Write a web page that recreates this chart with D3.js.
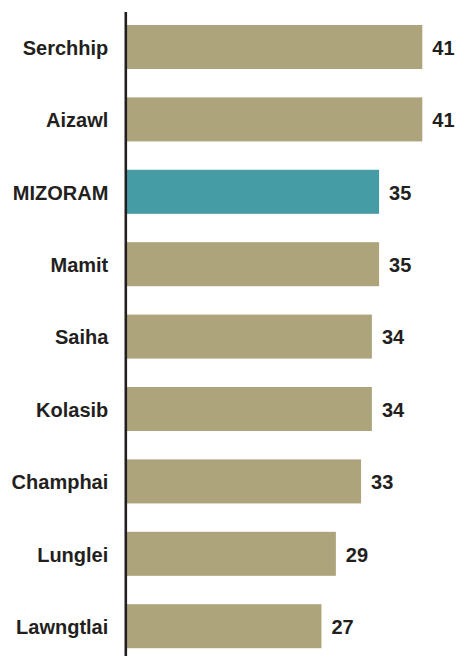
<!DOCTYPE html>
<html lang="en">
<head>
    <meta charset="UTF-8">
    <title>Mizoram districts</title>
    <style>
        body { margin: 0; background: #fff; }
        .lbl { font-family: "Liberation Sans", Arial, sans-serif; font-weight: bold; font-size: 20px; fill: #231f20; }
    </style>
</head>
<body>
    <script src="https://d3js.org/d3.v7.min.js"></script>
    <script>
        const districts = ['Serchhip', 'Aizawl', 'MIZORAM', 'Mamit', 'Saiha', 'Kolasib', 'Champhai', 'Lunglei', 'Lawngtlai'];
        const values = [41, 41, 35, 35, 34, 34, 32.5, 29, 27];
        const highlight = 'MIZORAM';

        let w = 456, h = 656;
        let x0 = 127;

        let s = d3.select('body').append('svg')
            .attr('width', w)
            .attr('height', h);

        let x = d3.scaleLinear().domain([0, 41]).range([x0, 422.3]);
        let y = d3.scaleBand().domain(districts).range([-3.4, 676.6]).padding(0.392);
        let fmt = d3.format('.0f');

        let rows = districts.map((d, i) => ({ name: d, v: values[i] }));

        s.selectAll('.bar')
            .data(rows)
            .enter().append('rect')
            .attr('class', 'bar')
            .attr('x', x(0))
            .attr('y', d => y(d.name))
            .attr('width', d => x(d.v) - x(0))
            .attr('height', y.bandwidth())
            .attr('fill', d => d.name == highlight ? '#459ca5' : '#ada47c');

        s.selectAll('.val')
            .data(rows)
            .enter().append('text')
            .attr('class', 'lbl')
            .attr('x', d => x(d.v) + 10)
            .attr('y', d => y(d.name) + y.bandwidth() / 2)
            .attr('dy', '0.39em')
            .text(d => fmt(d.v));

        s.selectAll('.cat')
            .data(rows)
            .enter().append('text')
            .attr('class', 'lbl')
            .attr('text-anchor', 'end')
            .attr('x', 108.3)
            .attr('y', d => y(d.name) + y.bandwidth() / 2)
            .attr('dy', '0.39em')
            .text(d => d.name);

        s.append('line')
            .attr('x1', 125.8).attr('x2', 125.8)
            .attr('y1', 12).attr('y2', h)
            .attr('stroke', '#231f20')
            .attr('stroke-width', 2.6);
    </script>
</body>
</html>
